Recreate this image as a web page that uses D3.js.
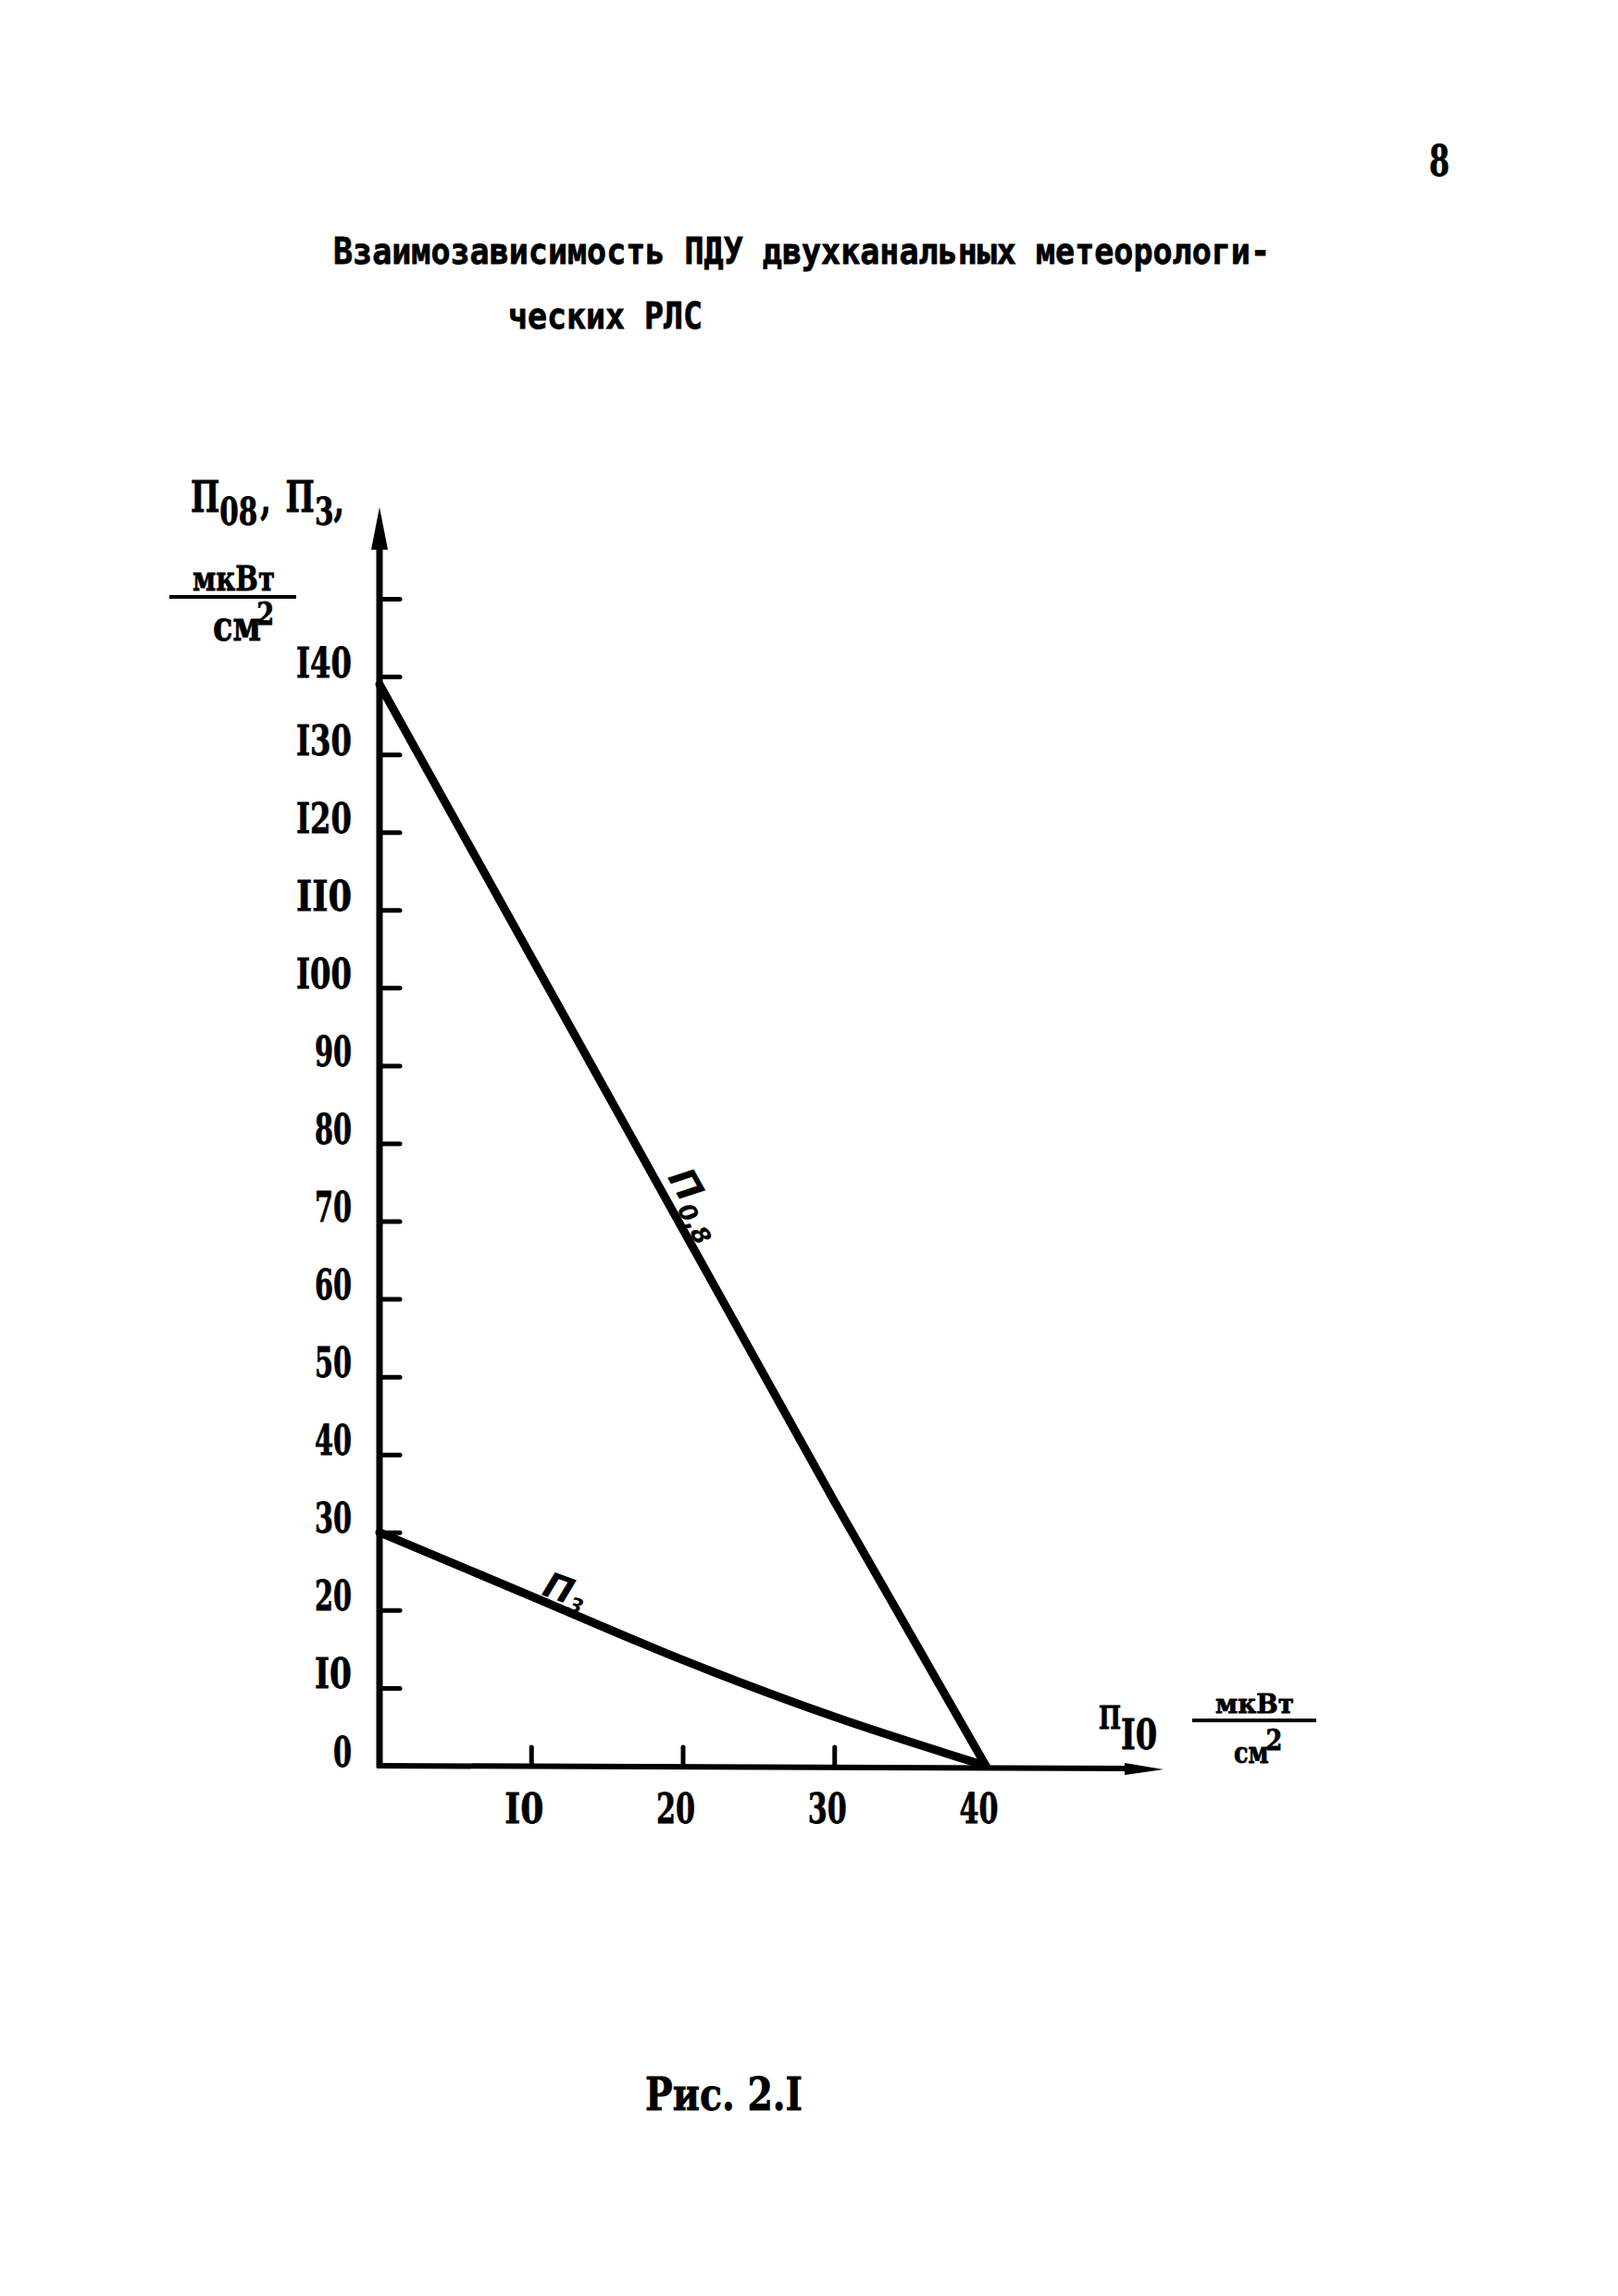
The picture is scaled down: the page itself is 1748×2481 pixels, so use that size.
<!DOCTYPE html>
<html><head><meta charset="utf-8">
<script src="https://cdn.jsdelivr.net/npm/d3@7"></script>
<style>
body{margin:0;background:#fff}
svg{display:block;background:#fff}
text{font-family:"DejaVu Serif",serif;font-weight:bold;fill:#000}
.heavy{stroke:#000;stroke-width:0.8px}
.mono{font-family:"DejaVu Sans Mono",monospace;font-weight:bold}
.hand{font-family:"DejaVu Sans",sans-serif;font-style:oblique;font-weight:bold}
</style>
</head><body>
<svg id="chart" width="1748" height="2481"></svg>
<script>
// ---- data ----
const p08X = [0, 10, 20, 30, 40];
const p08Values = [139, 104, 69, 34, 0];
const p3X = [0, 10, 20, 30, 40];
const p3Values = [30, 21.8, 13.6, 6.3, 0];
const yTickValues = [0, 10, 20, 30, 40, 50, 60, 70, 80, 90, 100, 110, 120, 130, 140, 150];
const yTickLabels = ["0", "I0", "20", "30", "40", "50", "60", "70", "80", "90", "I00", "II0", "I20", "I30", "I40", ""];
const xTickValues = [10, 20, 30, 40];
const xTickLabels = ["I0", "20", "30", "40"];
const titleLines = ["Взаимозависимость ПДУ двухканальных метеорологи-", "ческих РЛС"];
const pageNumber = "8";
const caption = "Рис. 2.I";
const seriesNames = [{main: "П", sub: "0,8"}, {main: "П", sub: "3"}];
const yTitle = [{main: "П", sub: "08"}, {main: "П", sub: "3"}];
const xTitle = {main: "П", sub: "I0"};
const unitTop = "мкВт", unitBottom = "см", unitPow = "2";

// ---- layout ----
const svg = d3.select("#chart");
const x = d3.scaleLinear().domain([0, 40]).range([410, 1065]);
const y = d3.scaleLinear().domain([0, 150]).range([1908, 647]);
const ink = "#000";

// title, page number, caption
svg.append("text").attr("class", "heavy").attr("x", 1555).attr("y", 190).attr("text-anchor", "middle")
  .attr("font-size", 46).attr("textLength", 22).attr("lengthAdjust", "spacingAndGlyphs").text(pageNumber);
svg.append("text").attr("class", "heavy mono").attr("x", 360).attr("y", 285).attr("font-size", 39)
  .attr("textLength", 1012).attr("lengthAdjust", "spacingAndGlyphs").text(titleLines[0]);
svg.append("text").attr("class", "heavy mono").attr("x", 549).attr("y", 355).attr("font-size", 39)
  .attr("textLength", 210).attr("lengthAdjust", "spacingAndGlyphs").text(titleLines[1]);
svg.append("text").attr("class", "heavy").attr("x", 697).attr("y", 2280).attr("font-size", 48)
  .attr("textLength", 170).attr("lengthAdjust", "spacingAndGlyphs").text(caption);

// axes with ticks
const yAxis = d3.axisLeft(y).tickValues(yTickValues)
  .tickFormat((d, i) => yTickLabels[i]).tickSizeInner(-22).tickSizeOuter(0).tickPadding(30);
const gy = svg.append("g").attr("transform", `translate(${x(0)},0)`).call(yAxis);
gy.select(".domain").remove();
gy.selectAll(".tick line").attr("stroke", ink).attr("stroke-width", 5).attr("stroke-linecap", "round")
  .filter(d => d === 0).remove();
gy.selectAll(".tick text").attr("font-family", null).attr("font-size", 45).attr("dy", "0em").attr("class", "heavy")
  .attr("textLength", (d, i) => Math.max(1, yTickLabels[i].length * 20)).attr("lengthAdjust", "spacingAndGlyphs");

const xAxis = d3.axisBottom(x).tickValues(xTickValues)
  .tickFormat((d, i) => xTickLabels[i]).tickSizeInner(-20).tickSizeOuter(0).tickPadding(30);
const gx = svg.append("g").attr("transform", `translate(0,${y(0)})`).call(xAxis);
gx.select(".domain").remove();
gx.selectAll(".tick line").attr("stroke", ink).attr("stroke-width", 5).attr("stroke-linecap", "round")
  .filter(d => d === 40).remove();
gx.selectAll(".tick text").attr("font-family", null).attr("font-size", 45).attr("dx", -8).attr("class", "heavy")
  .attr("textLength", (d, i) => xTickLabels[i].length * 21).attr("lengthAdjust", "spacingAndGlyphs");
svg.selectAll(".tick text").attr("fill", ink);

// axis lines with arrows
const yTop = 548, xRight = 1257;
svg.append("line").attr("x1", x(0)).attr("y1", y(0) + 2).attr("x2", x(0)).attr("y2", yTop + 30)
  .attr("stroke", ink).attr("stroke-width", 7);
svg.append("path").attr("d", `M${x(0)},${yTop} L${x(0) + 9},${yTop + 46} L${x(0) - 9},${yTop + 46} Z`).attr("fill", ink);
svg.append("line").attr("x1", x(0) - 3).attr("y1", y(0)).attr("x2", xRight - 30).attr("y2", y(0) + 3)
  .attr("stroke", ink).attr("stroke-width", 6);
svg.append("path").attr("d", `M${xRight},${y(0) + 4} L${xRight - 42},${y(0) - 3} L${xRight - 42},${y(0) + 10} Z`).attr("fill", ink);

// series lines
svg.append("path").datum(p08X.map((v, i) => [v, p08Values[i]]))
  .attr("d", d3.line().x(d => x(d[0])).y(d => y(d[1])).curve(d3.curveLinear)).attr("fill", "none").attr("stroke", ink)
  .attr("stroke-width", 9).attr("stroke-linejoin", "round").attr("stroke-linecap", "round");
svg.append("path").datum(p3X.map((v, i) => [v, p3Values[i]]))
  .attr("d", d3.line().x(d => x(d[0])).y(d => y(d[1])).curve(d3.curveMonotoneX)).attr("fill", "none").attr("stroke", ink)
  .attr("stroke-width", 9).attr("stroke-linejoin", "round").attr("stroke-linecap", "round");

// curve labels
function interp(xs, ys, xv) { return d3.scaleLinear().domain(xs).range(ys)(xv); }
{
  const xv = 18.3, px = x(xv), py = y(interp(p08X, p08Values, xv));
  const ang = Math.atan2(y(0) - y(139), x(40) - x(0)) * 180 / Math.PI;
  const t = svg.append("text").attr("class", "hand")
    .attr("transform", `translate(${px + 11},${py - 6}) rotate(${ang})`).attr("font-size", 40);
  t.append("tspan").text(seriesNames[0].main);
  t.append("tspan").attr("font-size", 26).attr("dy", 8).attr("dx", 2).text(seriesNames[0].sub);
}
{
  const xv = 11.5, px = x(xv), py = y(interp(p3X, p3Values, xv));
  const t = svg.append("text").attr("class", "hand")
    .attr("transform", `translate(${px - 14},${py - 12}) rotate(20)`).attr("font-size", 38);
  t.append("tspan").text(seriesNames[1].main);
  t.append("tspan").attr("font-size", 22).attr("dy", 6).text(seriesNames[1].sub);
}

// y-axis title: П08, П3,  мкВт/см²
{
  const t = svg.append("text").attr("class", "heavy")
    .attr("transform", "translate(206,553) scale(0.72,1)").attr("font-size", 46);
  t.append("tspan").text(yTitle[0].main);
  t.append("tspan").attr("font-size", 41).attr("dy", 14).text(yTitle[0].sub);
  t.append("tspan").attr("dy", -12).attr("dx", 4).text(",");
  t.append("tspan").attr("dy", -2).attr("dx", 22).text(yTitle[1].main);
  t.append("tspan").attr("font-size", 41).attr("dy", 14).text(yTitle[1].sub);
  t.append("tspan").attr("dy", -10).text(",");
}
svg.append("line").attr("x1", 183).attr("y1", 645).attr("x2", 320).attr("y2", 645).attr("stroke", ink).attr("stroke-width", 4);
svg.append("text").attr("class", "heavy").attr("x", 208).attr("y", 638).attr("font-size", 38)
  .attr("textLength", 89).attr("lengthAdjust", "spacingAndGlyphs").text(unitTop);
{
  const t = svg.append("text").attr("class", "heavy")
    .attr("transform", "translate(230,692) scale(0.8,1)").attr("font-size", 44);
  t.append("tspan").text(unitBottom);
  t.append("tspan").attr("font-size", 34).attr("dy", -17).attr("dx", -6).text(unitPow);
}

// x-axis title: П10 мкВт/см²
{
  const t = svg.append("text").attr("class", "heavy")
    .attr("transform", "translate(1187,1868) scale(0.75,1)").attr("font-size", 34);
  t.append("tspan").text(xTitle.main);
  t.append("tspan").attr("font-size", 45).attr("dy", 22).text(xTitle.sub);
}
svg.append("line").attr("x1", 1288).attr("y1", 1859).attr("x2", 1422).attr("y2", 1859).attr("stroke", ink).attr("stroke-width", 4);
svg.append("text").attr("class", "heavy").attr("x", 1313).attr("y", 1851).attr("font-size", 28)
  .attr("textLength", 85).attr("lengthAdjust", "spacingAndGlyphs").text(unitTop);
{
  const t = svg.append("text").attr("class", "heavy")
    .attr("transform", "translate(1333,1905) scale(0.8,1)").attr("font-size", 32);
  t.append("tspan").text(unitBottom);
  t.append("tspan").attr("font-size", 32).attr("dy", -14).attr("dx", -4).text(unitPow);
}
</script>
</body></html>
